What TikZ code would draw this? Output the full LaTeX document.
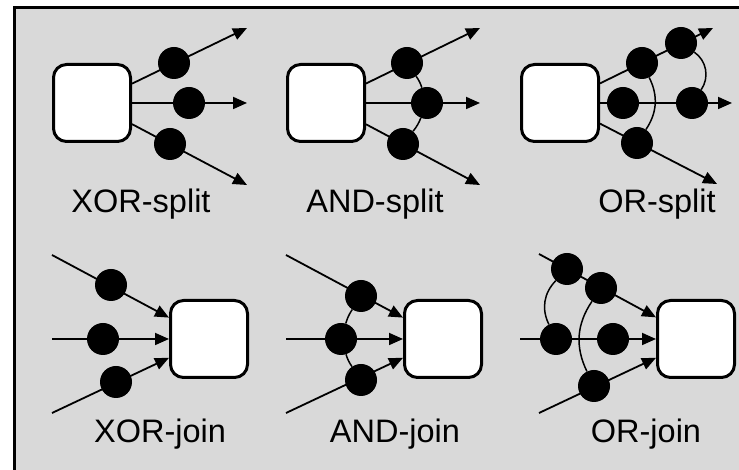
\documentclass[tikz,border=0pt]{standalone}
\usepackage{fontspec}
\setmainfont{Liberation Sans}
\usetikzlibrary{arrows.meta}
\definecolor{panelgray}{RGB}{217,217,217}

\begin{document}
\begin{tikzpicture}[x=1pt, y=1pt,
    task/.style={draw, line width=3pt, fill=white, rounded corners=13pt,
        minimum width=77pt, minimum height=77pt},
    place dot/.style={circle, fill=black, inner sep=0pt, minimum size=32pt},
    flow/.style={line width=1.8pt, -{Triangle[length=14pt, width=12pt]}},
    link/.style={line width=1.5pt},
    caption text/.style={font=\fontsize{32.5}{38}\selectfont, anchor=base}]
    \useasboundingbox (0,0) rectangle (739,470);
    \draw[line width=3pt, fill=panelgray] (14,462) rectangle (760,-20);

    % XOR-split
    \node[task] (xs) at (92,367) {};
    \coordinate (xs-e1) at (247,442);
    \coordinate (xs-e2) at (247,367);
    \coordinate (xs-e3) at (247,285);
    \foreach \i in {1,2,3}
        \draw[flow] (xs) -- (xs-e\i);
    \node[place dot] (xs-p1) at (174,407) {};
    \node[place dot] (xs-p2) at (189,367) {};
    \node[place dot] (xs-p3) at (170,326) {};
    \node[caption text] (xs-label) at (141,257) {XOR-split};

    % AND-split
    \node[task] (as) at (326,367) {};
    \coordinate (as-e1) at (480,442);
    \coordinate (as-e2) at (480,367);
    \coordinate (as-e3) at (480,285);
    \foreach \i in {1,2,3}
        \draw[flow] (as) -- (as-e\i);
    \node[place dot] (as-p1) at (407,407) {};
    \node[place dot] (as-p2) at (427,367) {};
    \node[place dot] (as-p3) at (403,326) {};
    \draw[link] (as-p1) to[bend left=8] (as-p2);
    \draw[link] (as-p2) to[bend left=8] (as-p3);
    \node[caption text] (as-label) at (375,257) {AND-split};

    % OR-split
    \node[task] (os) at (560,367) {};
    \coordinate (os-e1) at (713,442);
    \coordinate (os-e2) at (732,367);
    \coordinate (os-e3) at (717,286);
    \foreach \i in {1,2,3}
        \draw[flow] (os) -- (os-e\i);
    \node[place dot] (os-p1) at (642,407) {};
    \node[place dot] (os-p2) at (681,427) {};
    \node[place dot] (os-p3) at (623,367) {};
    \node[place dot] (os-p4) at (692,367) {};
    \node[place dot] (os-p5) at (637,327) {};
    \draw[link] (os-p1) to[bend left=30] (os-p5);
    \draw[link] (os-p2) to[bend left=45] (os-p4);
    \node[caption text] (os-label) at (657,257) {OR-split};

    % XOR-join
    \node[task] (xj) at (209,131) {};
    \coordinate (xj-s1) at (52,215);
    \coordinate (xj-s2) at (52,131);
    \coordinate (xj-s3) at (52,57);
    \foreach \i in {1,2,3}
        \draw[flow] (xj-s\i) -- (xj);
    \node[place dot] (xj-p1) at (111,185) {};
    \node[place dot] (xj-p2) at (103,131) {};
    \node[place dot] (xj-p3) at (116,88) {};
    \node[caption text] (xj-label) at (160,27) {XOR-join};

    % AND-join
    \node[task] (aj) at (443,131) {};
    \coordinate (aj-s1) at (286,215);
    \coordinate (aj-s2) at (286,131);
    \coordinate (aj-s3) at (286,57);
    \foreach \i in {1,2,3}
        \draw[flow] (aj-s\i) -- (aj);
    \node[place dot] (aj-p1) at (361,174) {};
    \node[place dot] (aj-p2) at (341,131) {};
    \node[place dot] (aj-p3) at (361,90) {};
    \draw[link] (aj-p1) to[bend right=8] (aj-p2);
    \draw[link] (aj-p2) to[bend right=8] (aj-p3);
    \node[caption text] (aj-label) at (395,27) {AND-join};

    % OR-join
    \node[task] (oj) at (696,131) {};
    \coordinate (oj-s1) at (539,216);
    \coordinate (oj-s2) at (520,131);
    \coordinate (oj-s3) at (539,57);
    \foreach \i in {1,2,3}
        \draw[flow] (oj-s\i) -- (oj);
    \node[place dot] (oj-p1) at (567,201) {};
    \node[place dot] (oj-p2) at (601,182) {};
    \node[place dot] (oj-p3) at (556,131) {};
    \node[place dot] (oj-p4) at (613,131) {};
    \node[place dot] (oj-p5) at (594,84) {};
    \draw[link] (oj-p1) to[bend right=35] (oj-p3);
    \draw[link] (oj-p2) to[bend right=30] (oj-p5);
    \node[caption text] (oj-label) at (646,27) {OR-join};
\end{tikzpicture}
\end{document}
